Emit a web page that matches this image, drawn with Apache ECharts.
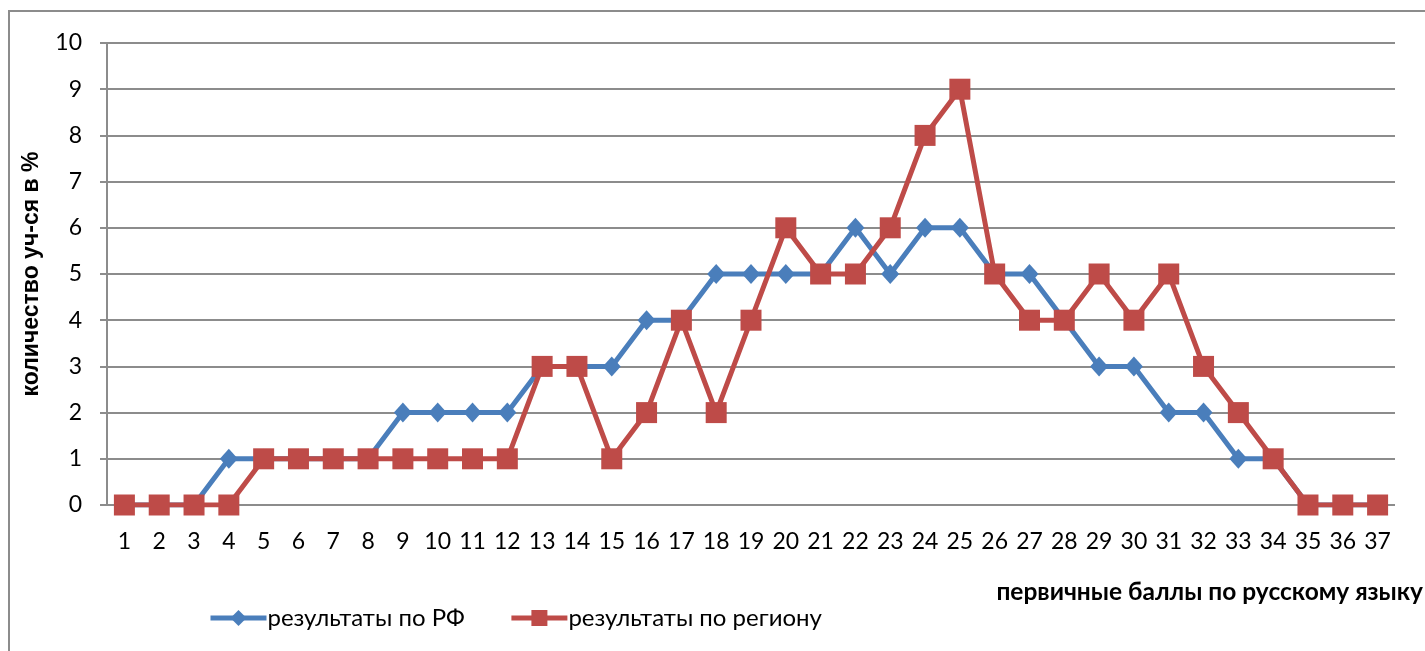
<!DOCTYPE html>
<html><head><meta charset="utf-8">
<script src="https://cdn.jsdelivr.net/npm/echarts@6/dist/echarts.min.js"></script>
<style>html,body{margin:0;padding:0;background:#fff}#c{width:1425px;height:651px}</style>
</head><body><div id="c"></div>
<script>
const categories = ['1','2','3','4','5','6','7','8','9','10','11','12','13','14','15','16','17','18','19','20','21','22','23','24','25','26','27','28','29','30','31','32','33','34','35','36','37'];
const seriesRF = [0,0,0,1,1,1,1,1,2,2,2,2,3,3,3,4,4,5,5,5,5,6,5,6,6,5,5,4,3,3,2,2,1,1,0,0,0];
const seriesRegion = [0,0,0,0,1,1,1,1,1,1,1,1,3,3,1,2,4,2,4,6,5,5,6,8,9,5,4,4,5,4,5,3,2,1,0,0,0];
const nameRF = 'результаты по РФ';
const nameRegion = 'результаты по региону';
const yTitle = 'количество уч-ся в %';
const xTitle = 'первичные баллы по русскому языку';

const chart = echarts.init(document.getElementById('c'), null, {renderer:'canvas'});
const font = 'Lato, "Noto Sans", sans-serif';
chart.setOption({
  animation:false,
  backgroundColor:'#fff',
  graphic:[{type:'rect', shape:{x:9,y:11,width:1430,height:660}, style:{fill:'none',stroke:'#8c8c8c',lineWidth:2}, silent:true}],
  title:{text:xTitle, right:2, top:580, padding:0, textStyle:{fontFamily:font,fontWeight:'bold',fontSize:24.5,color:'#000'}},
  grid:{left:107,right:30,top:43,bottom:146},
  legend:{left:203, top:601, itemWidth:56, itemHeight:20, itemGap:44,
    lineStyle:{width:5},
    textStyle:{fontFamily:font,fontSize:24,color:'#000',padding:[0,0,0,-4]},
    data:[{name:nameRF},{name:nameRegion}]},
  xAxis:{type:'category', data:categories, boundaryGap:true,
    axisLine:{show:false}, axisTick:{show:false},
    axisLabel:{fontFamily:font,fontSize:23,color:'#000',margin:25}},
  yAxis:{type:'value', min:0, max:10, interval:1,
    name:yTitle, nameLocation:'middle', nameGap:64, nameRotate:90,
    nameTextStyle:{fontFamily:'"Liberation Sans", Arial, sans-serif',fontWeight:'bold',fontSize:23,color:'#000'},
    axisLine:{show:true,lineStyle:{color:'#8c8c8c',width:2}},
    axisTick:{show:true,length:7,lineStyle:{color:'#8c8c8c',width:2}},
    axisLabel:{fontFamily:font,fontSize:23,color:'#000',margin:25},
    splitLine:{lineStyle:{color:'#8c8c8c',width:2}}},
  series:[
    {name:nameRF, type:'line', data:seriesRF, symbol:'diamond', symbolSize:[18,20],
      lineStyle:{color:'#4a7ebb',width:5}, itemStyle:{color:'#4a7ebb'}, z:2},
    {name:nameRegion, type:'line', data:seriesRegion, symbol:'rect', symbolSize:21,
      lineStyle:{color:'#be4b48',width:5}, itemStyle:{color:'#be4b48'}, z:3}
  ]
});
</script></body></html>
